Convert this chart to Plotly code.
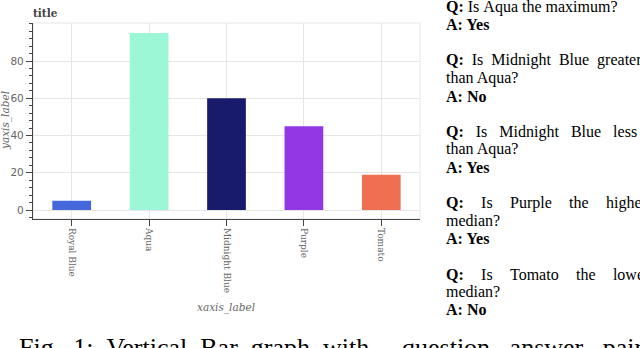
import plotly.graph_objects as go

# chart data
categories = ["Royal Blue", "Aqua", "Midnight Blue", "Purple", "Tomato"]
values = [5, 95, 60, 45, 19]
bar_colors = ["#4467db", "#9cf7d6", "#181a6c", "#9137e3", "#ee6f51"]
y_ticks = [0, 20, 40, 60, 80]

# question / answer pairs shown beside the chart
questions = [
    ["Is Aqua the maximum?"],
    ["Is Midnight Blue greater", "than Aqua?"],
    ["Is Midnight Blue less", "than Aqua?"],
    ["Is Purple the higher", "median?"],
    ["Is Tomato the lower", "median?"],
]
answers = ["Yes", "No", "Yes", "Yes", "No"]
caption = ["Fig. 1: Vertical Bar graph with", "question answer pairs"]

W, H = 640, 348
GRID = "#e6e6e6"
AXIS = "#444444"
NB = "\u00a0"
HAIR = "\u200a"


def px(x):
    return x / W


def py(y):
    return 1 - y / H


fig = go.Figure()
fig.add_trace(go.Bar(
    x=categories, y=values, width=0.5,
    marker=dict(color=bar_colors, line=dict(width=0)),
    hoverinfo="skip",
))

# frame outline (bokeh style)
fig.add_shape(type="rect", xref="x domain", yref="y domain", x0=0, x1=1, y0=0, y1=1,
              line=dict(color=GRID, width=1), layer="below")

annotations = [
    dict(text="<b>title</b>", x=px(31), y=py(13), xanchor="left", yanchor="middle",
         font=dict(family="DejaVu Serif", size=10.5, color=AXIS)),
    dict(text="<i>yaxis_label</i>", x=px(6), y=py(121), textangle=-90,
         xanchor="center", yanchor="middle",
         font=dict(family="DejaVu Serif", size=10.5, color="#666")),
    dict(text="<i>xaxis_label</i>", x=px(226), y=py(307), xanchor="center", yanchor="middle",
         font=dict(family="DejaVu Serif", size=10.5, color="#666")),
]

# right hand column, justified roughly with non-breaking spaces
gaps = [NB, NB * 2, NB * 3, NB * 4 + HAIR, NB * 4 + HAIR]
line_h = 17.8
row = 0
for q, a, g in zip(questions, answers, gaps):
    for i, ln in enumerate(q):
        if i == 0:
            body = "<b>Q:</b>" + g + ln.replace(" ", g)
        else:
            body = ln
        annotations.append(dict(text=body, x=px(444), y=py(7 + row * line_h),
                                xanchor="left", yanchor="middle",
                                font=dict(family="Liberation Serif", size=16, color="black")))
        row += 1
    annotations.append(dict(text="<b>A: " + a + "</b>", x=px(444), y=py(7 + row * line_h),
                            xanchor="left", yanchor="middle",
                            font=dict(family="Liberation Serif", size=16, color="black")))
    row += 2

# figure caption, only its top shows at the bottom edge (split so each piece fits)
for part, x0, g in zip(caption, [17, 400], [NB * 2, NB * 3]):
    annotations.append(dict(text=part.replace(" ", g), x=px(x0), y=py(331),
                            xanchor="left", yanchor="top",
                            font=dict(family="Liberation Serif", size=26, color="black")))

for an in annotations:
    an.update(xref="paper", yref="paper", showarrow=False)

fig.update_layout(
    width=W, height=H,
    margin=dict(l=0, r=0, t=0, b=0),
    paper_bgcolor="white", plot_bgcolor="white",
    showlegend=False,
    annotations=annotations,
    xaxis=dict(
        domain=[px(33), px(420)], range=[-0.5, 4.5], type="category",
        showgrid=True, gridcolor=GRID, gridwidth=1,
        showline=True, linecolor=AXIS, linewidth=1.2,
        ticks="outside", ticklen=6, tickcolor=AXIS, tickangle=90,
        tickfont=dict(family="DejaVu Serif", size=9, color="#666"),
        automargin=False, fixedrange=True,
    ),
    yaxis=dict(
        domain=[py(219), py(23)], range=[-4.8, 100.4],
        tickvals=y_ticks, showgrid=True, gridcolor=GRID, gridwidth=1, zeroline=False,
        showline=True, linecolor=AXIS, linewidth=1.2,
        ticks="outside", ticklen=6, tickcolor=AXIS,
        minor=dict(ticks="outside", ticklen=3, dtick=4, tick0=0, tickcolor=AXIS, showgrid=False),
        tickfont=dict(family="DejaVu Sans", size=10.5, color="#666"),
        automargin=False, fixedrange=True,
    ),
)

fig.write_html("out.html", config={"displayModeBar": False},
               post_script="document.body.style.margin = '0';")
